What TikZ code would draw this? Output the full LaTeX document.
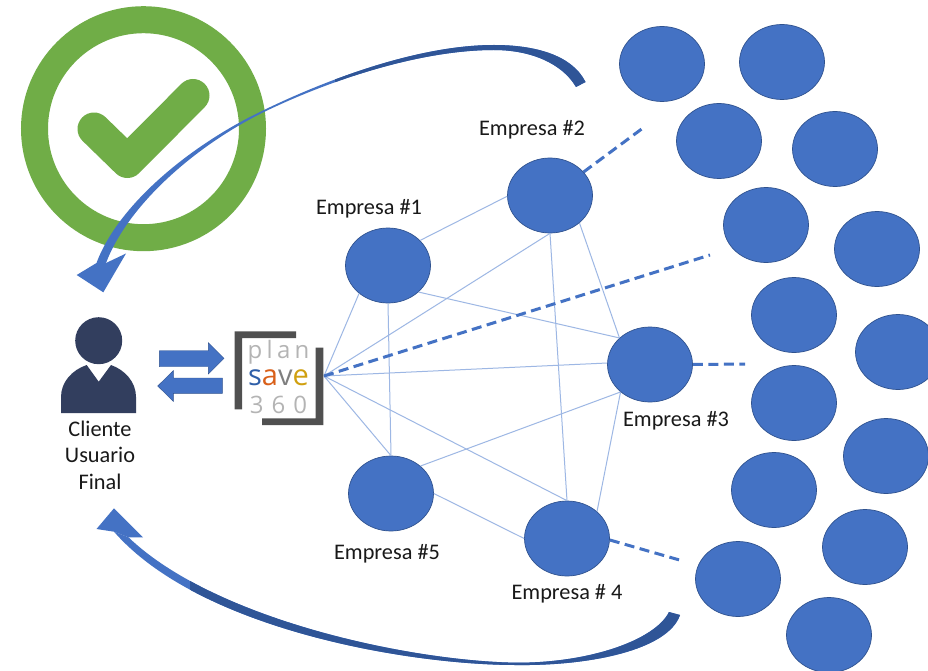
\documentclass[tikz,border=0pt]{standalone}
\usepackage{fontspec}
\setmainfont{Carlito}
\newfontfamily\logofont{Open Sans}
\usetikzlibrary{shapes.geometric}
\definecolor{blueA}{HTML}{4472C4}
\definecolor{blueB}{HTML}{2F5597}
\definecolor{blueC}{HTML}{2F528F}
\definecolor{linkc}{HTML}{9DB7E4}
\definecolor{greenA}{HTML}{70AD47}
\definecolor{navy}{HTML}{323E5E}
\definecolor{brk}{HTML}{505050}
\definecolor{lgray}{HTML}{B4B4B4}
\definecolor{logoS}{HTML}{2F5FA8}
\definecolor{logoA}{HTML}{D9601A}
\definecolor{logoV}{HTML}{7F7F7F}
\definecolor{logoE}{HTML}{D0A010}
\tikzset{
  firm/.style={ellipse,fill=blueA,draw=blueC,line width=0.7pt,minimum width=85pt,minimum height=75pt,inner sep=0pt},
  link/.style={draw=linkc,line width=1pt},
  dashlink/.style={draw=blueA,line width=3pt,dash pattern=on 10pt off 5.5pt},
  lbl/.style={font=\fontsize{22.3pt}{26.5pt}\selectfont,text=black!90,inner sep=0pt,align=center},
  logotxt/.style={font=\logofont\fontsize{24pt}{24pt}\selectfont,inner sep=0pt,anchor=center},
  twin/.style={fill=blueA,draw=blueC,line width=0.4pt}
}
\newcommand{\topshaft}{(585.5,82) .. controls (572,55) and (535,45) .. (494,45) .. controls (420,45) and (330,78) .. (264,110) .. controls (190,145) and (118,205) .. (96.5,263) -- (106,263) .. controls (128,205) and (195,146) .. (264,112) .. controls (330,80) and (420,50) .. (494,50) .. controls (530,50) and (562,63) .. (576,87) -- cycle}
\newcommand{\botshaft}{(680,615) .. controls (668,650) and (590,666) .. (516,665) .. controls (410,665) and (200,630) .. (114,531.7) -- (128.5,537.3) .. controls (215,620) and (410,661) .. (516,662.7) .. controls (590,663) and (655,640) .. (669,612) -- cycle}
\begin{document}
\begin{tikzpicture}[x=1pt,y=-1pt]
\clip (0,0) rectangle (928,671);
\fill[white] (0,0) rectangle (928,671);
% check badge
\draw[greenA,line width=27pt] (143.5,128.7) circle[radius=109];
\draw[greenA,line width=33pt,line cap=round,line join=round] (94,129) -- (127.4,161.5) -- (193,95.5);
% firms
\node[firm] (e1) at (388,265.5) {};
\node[firm] (e2) at (550,195.5) {};
\node[firm] (e3) at (650,364.5) {};
\node[firm] (e4) at (567,538.5) {};
\node[firm] (e5) at (391,493.5) {};
\foreach \n/\x/\y in {a/662/64,b/782/62,c/719/141,d/835/149,f/766/225,g/877/249,h/794/315,i/898/352,j/794/403,k/886/456,l/774/490,m/865/547,n/738/579,o/829/635}
  \node[firm] (x\n) at (\x,\y) {};
% hub and free dash ends
\coordinate (hub) at (324,376);
\coordinate (d2) at (643,128);
\coordinate (dh) at (710,255);
\coordinate (d3) at (745,364);
\coordinate (d4) at (683,561);
% links
\draw[link] (e1.38) -- (e2.181);
\draw[link] (e1.-41) -- (e3.139);
\draw[link] (e1.south) -- (e5.north);
\draw[link] (e2.-43) -- (e3.139);
\draw[link] (e2.south) -- (e4.north);
\draw[link] (e3.223) -- (e4.42);
\draw[link] (e3.223) -- (e5.43);
\draw[link] (e5.0) -- (e4.180);
\draw[link] (hub) -- (e1.224);
\draw[link] (hub) -- (e2.south);
\draw[link] (hub) -- (e3.178);
\draw[link] (hub) -- (e5.north);
\draw[link] (hub) -- (e4.north);
% dashed
\draw[dashlink] (e2.35) -- (d2);
\draw[dashlink] (hub) -- (dh);
\draw[dashlink] (e3.east) -- (d3);
\draw[dashlink] (e4.-2) -- (d4);
% labels
\node[lbl] (t1) at (369,209) {Empresa \#1};
\node[lbl] (t2) at (532,130) {Empresa \#2};
\node[lbl] (t3) at (676,421) {Empresa \#3};
\node[lbl] (t4) at (567,594) {Empresa \# 4};
\node[lbl] (t5) at (387,554) {Empresa \#5};
\node[lbl] (tc) at (100,455) {Cliente\\Usuario\\Final};
% person
\fill[navy] (98.7,340.7) circle[radius=23.5];
\fill[navy] (61,413) -- (61,397) .. controls (61,382) and (72,370) .. (86.7,365) -- (98.7,381.7) -- (111,365) .. controls (125,370) and (136,382) .. (136,397) -- (136,413) -- cycle;
% twin arrows
\path[twin] (159.3,350.7) -- (208.3,350.7) -- (208.3,342.7) -- (224,358.3) -- (208.3,374) -- (208.3,366.7) -- (159.3,366.7) -- cycle;
\path[twin] (222.3,378) -- (173.3,378) -- (173.3,370.7) -- (157.7,386) -- (173.3,401.3) -- (173.3,393.3) -- (222.3,393.3) -- cycle;
% logo
\fill[brk] (234.7,409.3) -- (234.7,331.3) -- (296,331.3) -- (296,338) -- (242,338) -- (242,409.3) -- cycle;
\fill[brk] (262,425) -- (323.3,425) -- (323.3,347.7) -- (315.7,347.7) -- (315.7,418.3) -- (262,418.3) -- cycle;
\node[logotxt,text=lgray] (lp) at (278.5,352.5) {p\kern4.3pt l\kern4.3pt a\kern4.3pt n};
\node[logotxt,font=\logofont\fontsize{29pt}{29pt}\selectfont] (ls) at (278.5,378) {\textcolor{logoS}{s}\textcolor{logoA}{a}\textcolor{logoV}{v}\textcolor{logoE}{e}};
\node[logotxt,text=lgray] (ln) at (278.5,404.5) {3\,\,6\,\,0};
% top curved arrow
\fill[blueA] \topshaft;
\begin{scope}
\clip (335,0) rectangle (600,120);
\fill[blueB] \topshaft;
\end{scope}
\fill[blueA] (96.5,263) -- (76.7,275) -- (103.3,292.3) -- (126,253.5) -- (106,263) -- cycle;
% bottom curved arrow
\fill[blueA] \botshaft;
\begin{scope}
\clip (190,540) rectangle (700,671);
\fill[blueB] \botshaft;
\end{scope}
\fill[blueA] (114,531.7) -- (96.5,529) -- (114,508.3) -- (143,537.3) -- (128.5,537.3) -- cycle;
\end{tikzpicture}
\end{document}
